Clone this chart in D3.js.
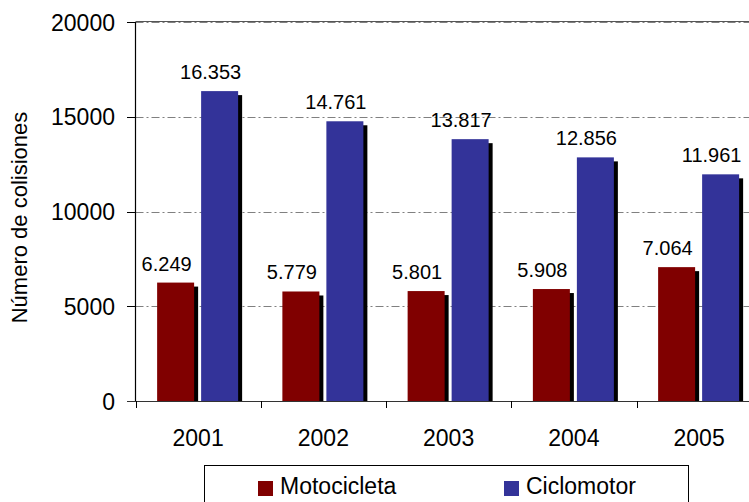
<!DOCTYPE html>
<html>
<head>
<meta charset="utf-8">
<script src="https://cdn.jsdelivr.net/npm/d3@7"></script>
<style>
  html, body { margin: 0; padding: 0; background: #fff; }
  svg { display: block; font-family: "Liberation Sans", Arial, sans-serif; }
</style>
</head>
<body>
<svg id="chart" width="749" height="502"></svg>
<script>
// Collisions per year, by vehicle type
const years = ["2001", "2002", "2003", "2004", "2005"];
const seriesNames = ["Motocicleta", "Ciclomotor"];
const motocicleta = [6249, 5779, 5801, 5908, 7064];
const ciclomotor = [16353, 14761, 13817, 12856, 11961];
const yTicks = [0, 5000, 10000, 15000, 20000];
const colors = ["#800000", "#333399"];

const svg = d3.select("#chart");
const plot = { left: 135.5, top: 22, bottom: 401, right: 761.75 };

const x = d3.scaleBand().domain(years).range([plot.left, plot.right]);
const xs = d3.scaleBand().domain(seriesNames).range([-41, 40]).paddingInner(7 / 44);
const y = d3.scaleLinear().domain([0, 20000]).range([plot.bottom, plot.top]);
const es = d3.formatLocale({ decimal: ",", thousands: ".", grouping: [3], currency: ["", " €"] });
const fmt = es.format(",");

const rows = years.map((yr, i) => ({ year: yr, values: [motocicleta[i], ciclomotor[i]] }));

// Gridlines (dash-dot)
svg.append("g").selectAll("line").data(yTicks.filter(t => t > 0)).join("line")
  .attr("x1", plot.left).attr("x2", 749)
  .attr("y1", d => Math.round(y(d)) + 0.5).attr("y2", d => Math.round(y(d)) + 0.5)
  .attr("stroke", "#808080").attr("stroke-width", 1.2)
  .attr("stroke-dasharray", "8,3,2,3");
// top edge of the plot area
svg.append("line")
  .attr("x1", plot.left).attr("x2", 749)
  .attr("y1", y(20000) - 0.5).attr("y2", y(20000) - 0.5)
  .attr("stroke", "#555").attr("stroke-width", 1);

// Bars with drop shadows
const groups = svg.append("g").selectAll("g").data(rows).join("g")
  .attr("transform", d => `translate(${x(d.year) + x.bandwidth() / 2},0)`);

const barData = d => d.values.map((v, i) => ({ name: seriesNames[i], value: v, color: colors[i] }));

groups.selectAll("rect.shadow").data(barData).join("rect")
  .attr("class", "shadow")
  .attr("x", d => xs(d.name) + 4)
  .attr("y", d => y(d.value) + 4)
  .attr("width", xs.bandwidth())
  .attr("height", d => plot.bottom - y(d.value) - 4)
  .attr("fill", "#000");

groups.selectAll("rect.bar").data(barData).join("rect")
  .attr("class", "bar")
  .attr("x", d => xs(d.name))
  .attr("y", d => y(d.value))
  .attr("width", xs.bandwidth())
  .attr("height", d => plot.bottom - y(d.value))
  .attr("fill", d => d.color);

groups.selectAll("text.val").data(barData).join("text")
  .attr("class", "val")
  .attr("x", d => xs(d.name) + xs.bandwidth() / 2 - 9)
  .attr("y", d => y(d.value) - 12)
  .attr("text-anchor", "middle")
  .attr("font-size", 20)
  .attr("fill", "#000")
  .text(d => fmt(d.value));

// Y axis
const yAxis = svg.append("g");
yAxis.append("line")
  .attr("x1", plot.left).attr("x2", plot.left)
  .attr("y1", plot.top).attr("y2", plot.bottom)
  .attr("stroke", "#000").attr("stroke-width", 1.2);
yAxis.selectAll("line.tick").data(yTicks).join("line")
  .attr("class", "tick")
  .attr("x1", 127).attr("x2", plot.left)
  .attr("y1", d => Math.round(y(d)) + 0.5).attr("y2", d => Math.round(y(d)) + 0.5)
  .attr("stroke", "#000");
yAxis.selectAll("text").data(yTicks).join("text")
  .attr("x", 115)
  .attr("y", d => y(d) + 8.5)
  .attr("text-anchor", "end")
  .attr("font-size", 23)
  .text(d => d);

svg.append("text")
  .attr("transform", "translate(27,217.5) rotate(-90)")
  .attr("text-anchor", "middle")
  .attr("font-size", 22)
  .text("Número de colisiones");

// X axis
const xAxis = svg.append("g");
xAxis.append("line")
  .attr("x1", 127).attr("x2", 749)
  .attr("y1", plot.bottom + 0.5).attr("y2", plot.bottom + 0.5)
  .attr("stroke", "#333").attr("stroke-width", 1.2);
const bounds = years.map(yr => x(yr));
xAxis.selectAll("line.tick").data(bounds).join("line")
  .attr("class", "tick")
  .attr("x1", d => Math.round(d) + 0.5).attr("x2", d => Math.round(d) + 0.5)
  .attr("y1", plot.bottom).attr("y2", plot.bottom + 7)
  .attr("stroke", "#000");
xAxis.selectAll("text").data(years).join("text")
  .attr("x", d => x(d) + x.bandwidth() / 2)
  .attr("y", 446)
  .attr("text-anchor", "middle")
  .attr("font-size", 23)
  .text(d => d);

// Legend
const legend = svg.append("g");
legend.append("rect")
  .attr("x", 204.5).attr("y", 465.5)
  .attr("width", 484).attr("height", 50)
  .attr("fill", "#fff").attr("stroke", "#000").attr("stroke-width", 1);
const legendX = [258, 504];
const items = legend.selectAll("g").data(seriesNames).join("g")
  .attr("transform", (d, i) => `translate(${legendX[i]},481)`);
items.append("rect")
  .attr("width", 15).attr("height", 15)
  .attr("fill", (d, i) => colors[i]);
items.append("text")
  .attr("x", 22).attr("y", 13)
  .attr("font-size", 23)
  .text(d => d);
</script>
</body>
</html>
